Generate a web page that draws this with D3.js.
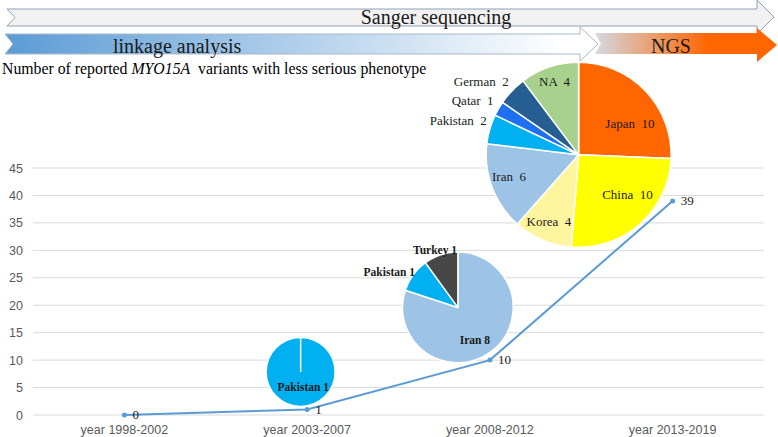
<!DOCTYPE html>
<html><head><meta charset="utf-8">
<script src="https://cdn.jsdelivr.net/npm/d3@7"></script>
<style>html,body{margin:0;padding:0;background:#fff;}svg{display:block;}</style>
</head><body>
<svg id="chart" width="778" height="437"></svg>
<script>
// ---- data ----
const categories = ["year 1998-2002", "year 2003-2007", "year 2008-2012", "year 2013-2019"];
const variantCounts = [0, 1, 10, 39];
const yTickValues = [0, 5, 10, 15, 20, 25, 30, 35, 40, 45];
const stageLabels = ["Sanger sequencing", "linkage analysis", "NGS"];
const titleParts = ["Number of reported ", "MYO15A", "  variants with less serious phenotype"];
const pie1Countries = ["Pakistan"];
const pie1Values = [1];
const pie2Countries = ["Iran", "Pakistan", "Turkey"];
const pie2Values = [8, 1, 1];
const pie3Countries = ["Japan", "China", "Korea", "Iran", "Pakistan", "Qatar", "German", "NA"];
const pie3Values = [10, 10, 4, 6, 2, 1, 2, 4];

// ---- colours ----
const countryColor = {
  Japan: "#ff6600", China: "#ffff00", Korea: "#fff59f", Iran: "#9dc3e6",
  Pakistan: "#00b0f0", Qatar: "#1f6ff2", German: "#255e91", NA: "#a9d18e", Turkey: "#474747"
};

const svg = d3.select("#chart");
const serif = "Liberation Serif, DejaVu Serif, Times New Roman, serif";
const sans = "Liberation Sans, Arial, sans-serif";

// ---- scales ----
const x = d3.scaleBand().domain(categories).range([33, 764]).padding(0);
const y = d3.scaleLinear().domain([0, 45]).range([415, 168]);
const cx = c => x(c) + x.bandwidth() / 2;

// gridlines
svg.append("g").selectAll("line").data(yTickValues).join("line")
  .attr("x1", 33).attr("x2", 764)
  .attr("y1", d => y(d)).attr("y2", d => y(d))
  .attr("stroke", "#d9d9d9").attr("stroke-width", 1);

// y axis labels
const yAxis = d3.axisLeft(y).tickValues(yTickValues).tickSize(0).tickPadding(0);
const gy = svg.append("g").attr("transform", "translate(23,0)").call(yAxis);
gy.select(".domain").remove();
gy.attr("font-family", null).attr("font-size", null);
gy.selectAll("text").style("font-family", sans).style("font-size", "12.5px").attr("fill", "#595959");

// x axis labels
const xAxis = d3.axisBottom(x).tickSize(0).tickPadding(0);
const gx = svg.append("g").attr("transform", "translate(0,425)").call(xAxis);
gx.select(".domain").remove();
gx.attr("font-family", null).attr("font-size", null);
gx.selectAll("text").style("font-family", sans).style("font-size", "12.5px").attr("fill", "#595959");

// ---- stage arrows ----
const defs = svg.append("defs");
const lg1 = defs.append("linearGradient").attr("id", "gLink").attr("x1", "0").attr("x2", "1").attr("y1", "0").attr("y2", "0");
lg1.append("stop").attr("offset", "0").attr("stop-color", "#5b9bd5");
lg1.append("stop").attr("offset", "0.94").attr("stop-color", "#ffffff");
lg1.append("stop").attr("offset", "1").attr("stop-color", "#ffffff");
const lg2 = defs.append("linearGradient").attr("id", "gNgs").attr("x1", "0").attr("x2", "1").attr("y1", "0").attr("y2", "0");
lg2.append("stop").attr("offset", "0").attr("stop-color", "#d4d9e2");
lg2.append("stop").attr("offset", "0.62").attr("stop-color", "#ff6600");
lg2.append("stop").attr("offset", "1").attr("stop-color", "#ff6600");

function arrowPath(x0, notch, xHead, xTip, yTop, yBot, hTop, hBot) {
  const ym = (yTop + yBot) / 2;
  return `M${x0},${yTop}L${xHead},${yTop}L${xHead},${hTop}L${xTip},${(hTop + hBot) / 2}L${xHead},${hBot}L${xHead},${yBot}L${x0},${yBot}L${x0 + notch},${ym}Z`;
}
svg.append("path").attr("d", arrowPath(7, 8, 757, 774, 9, 26, 0, 34))
  .attr("fill", "#f2f2f2").attr("stroke", "#8e9fb5").attr("stroke-width", 1);
svg.append("path").attr("d", arrowPath(5, 8, 580, 598, 34, 54, 27, 61))
  .attr("fill", "url(#gLink)").attr("stroke", "#a9b8c9").attr("stroke-width", 1);
svg.append("path").attr("d", arrowPath(595, 6, 757, 777, 33, 54, 28, 62))
  .attr("fill", "url(#gNgs)").attr("stroke", "none");

function serifText(sel, size, weight) {
  return sel.style("font-family", serif).style("font-size", size + "px")
    .style("font-weight", weight || "normal").attr("fill", "#1a1a1a");
}
serifText(svg.append("text").attr("x", 436).attr("y", 24).attr("text-anchor", "middle"), 20).text(stageLabels[0]);
serifText(svg.append("text").attr("x", 113).attr("y", 53).attr("text-anchor", "start"), 20).text(stageLabels[1]);
serifText(svg.append("text").attr("x", 671).attr("y", 53).attr("text-anchor", "middle"), 20).text(stageLabels[2]);

// title
const tt = serifText(svg.append("text").attr("x", 2).attr("y", 74).attr("xml:space", "preserve"), 15.8);
tt.attr("fill", "#000");
tt.append("tspan").text(titleParts[0]);
tt.append("tspan").style("font-style", "italic").text(titleParts[1]);
tt.append("tspan").text(titleParts[2]);

// ---- pies ----
const rad = d => d * Math.PI / 180;
function drawPie(countries, values, center, r, labelLayout, labelFont) {
  const pie = d3.pie().sort(null).value(d => d.v);
  const arcs = pie(countries.map((c, i) => ({ c, v: values[i] })));
  const arc = d3.arc().innerRadius(0).outerRadius(r);
  const g = svg.append("g").attr("transform", `translate(${center[0]},${center[1]})`);
  g.selectAll("path").data(arcs).join("path")
    .attr("d", arc).attr("fill", d => countryColor[d.data.c])
    .attr("stroke", "#fff").attr("stroke-width", 1.5).attr("stroke-linejoin", "round");
  if (arcs.length === 1) {
    g.append("line").attr("x1", 0).attr("y1", 0).attr("x2", 0).attr("y2", -r)
      .attr("stroke", "#fff").attr("stroke-width", 1.5);
  }
  const t = g.selectAll("text").data(arcs).join("text")
    .attr("x", (d, i) => Math.sin(rad(labelLayout[i][0])) * labelLayout[i][1])
    .attr("y", (d, i) => -Math.cos(rad(labelLayout[i][0])) * labelLayout[i][1])
    .attr("dy", "0.35em")
    .attr("text-anchor", (d, i) => labelLayout[i][2])
    .attr("xml:space", "preserve")
    .text(d => d.data.c + (labelFont.weight === "bold" ? " " : "  ") + d.data.v);
  serifText(t, labelFont.size, labelFont.weight);
}

// pie 3 (2013-2019)
drawPie(pie3Countries, pie3Values, [cx(categories[3]) - 94, y(47.4)], 92.5,
  [[58.7, 60, "middle"], [129.2, 63, "middle"], [204, 73, "middle"], [252.6, 73, "middle"],
   [290.3, 98, "end"], [302.4, 100.7, "end"], [316.2, 101, "end"], [341.8, 77, "middle"]],
  { size: 13, weight: "normal" });
// pie 2 (2008-2012)
drawPie(pie2Countries, pie2Values, [cx(categories[2]) - 32, y(19.6)], 55.3,
  [[152.7, 37, "middle"], [297, 77, "middle"], [338.4, 62, "middle"]],
  { size: 11.5, weight: "bold" });
// pie 1 (2003-2007)
drawPie(pie1Countries, pie1Values, [cx(categories[1]) - 6.5, y(7.85)], 34.5,
  [[170, 15.5, "middle"]],
  { size: 11.5, weight: "bold" });

// ---- line ----
const line = d3.line().x((d, i) => cx(categories[i])).y(d => y(d));
svg.append("path").datum(variantCounts).attr("d", line)
  .attr("fill", "none").attr("stroke", "#5b9bd5").attr("stroke-width", 2);
svg.append("g").selectAll("circle").data(variantCounts).join("circle")
  .attr("cx", (d, i) => cx(categories[i])).attr("cy", d => y(d)).attr("r", 2.5)
  .attr("fill", "#5b9bd5");
const dl = svg.append("g").selectAll("text").data(variantCounts).join("text")
  .attr("x", (d, i) => cx(categories[i]) + 8).attr("y", d => y(d)).attr("dy", "0.33em")
  .text(d => d);
serifText(dl, 13);
</script>
</body></html>
